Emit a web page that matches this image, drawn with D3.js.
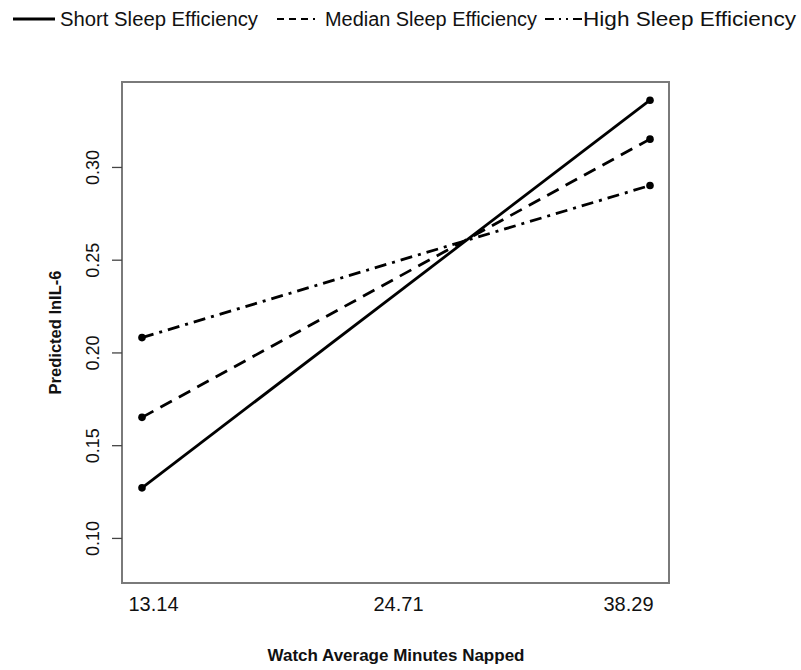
<!DOCTYPE html>
<html>
<head>
<meta charset="utf-8">
<script src="https://cdn.jsdelivr.net/npm/d3@7"></script>
<style>
  body { margin: 0; background: #fff; }
  text { font-family: "Liberation Sans", Arial, sans-serif; fill: #111; }
</style>
</head>
<body>
<div id="container"></div>
<script>
/* DATA */
const xLabels = ["13.14", "24.71", "38.29"];
const seriesNames = ["Short Sleep Efficiency", "Median Sleep Efficiency", "High Sleep Efficiency"];
const shortVals = [0.127, 0.336];
const medianVals = [0.165, 0.315];
const highVals = [0.208, 0.290];
const yTicks = [0.10, 0.15, 0.20, 0.25, 0.30];

const width = 801, height = 670;
const plot = {left: 122, right: 669, top: 82, bottom: 583};

const svg = d3.select("#container")
  .append("svg")
  .attr("width", width)
  .attr("height", height);

// x is categorical, lines only use first and last category
const xScale = d3.scalePoint()
  .domain(xLabels)
  .range([142, 650]);

const yScale = d3.scaleLinear()
  .domain([0.0757, 0.3458])
  .range([plot.bottom, plot.top]);

const dashes = ["none", "13,8", "12,6,3,6"];
const series = [shortVals, medianVals, highVals].map((vals, i) => ({
  name: seriesNames[i],
  dash: dashes[i],
  points: [
    {x: xLabels[0], y: vals[0]},
    {x: xLabels[xLabels.length - 1], y: vals[1]}
  ]
}));

// frame
svg.append("rect")
  .attr("x", plot.left)
  .attr("y", plot.top)
  .attr("width", plot.right - plot.left)
  .attr("height", plot.bottom - plot.top)
  .attr("fill", "none")
  .attr("stroke", "#7a7a7a")
  .attr("stroke-width", 2);

// y axis
const yAxis = svg.append("g")
  .attr("transform", `translate(${plot.left},0)`)
  .call(d3.axisLeft(yScale).tickValues(yTicks).tickFormat(d3.format(".2f")).tickSize(10));
yAxis.select(".domain").remove();
yAxis.selectAll(".tick line").attr("stroke", "#444").attr("stroke-width", 1.3);
yAxis.selectAll(".tick text")
  .attr("transform", "rotate(-90)")
  .attr("x", 0)
  .attr("y", -23)
  .attr("dy", "0")
  .style("text-anchor", "middle")
  .style("font-size", "18px")
  .style("font-family", "Liberation Sans, Arial, sans-serif");

// x labels (no tick marks in the original)
const xAxis = svg.append("g")
  .attr("transform", `translate(0,${plot.bottom})`)
  .call(d3.axisBottom(xScale).tickSize(0).tickPadding(14));
xAxis.select(".domain").remove();
xAxis.selectAll(".tick text")
  .style("font-size", "20px")
  .style("font-family", "Liberation Sans, Arial, sans-serif")
  .attr("dx", (d, i) => i === 0 ? 11 : (i === xLabels.length - 1 ? -22 : 2));

// axis titles
svg.append("text")
  .attr("x", 396)
  .attr("y", 661)
  .style("text-anchor", "middle")
  .style("font-weight", "bold")
  .style("font-size", "17px")
  .text("Watch Average Minutes Napped");

svg.append("text")
  .attr("transform", `translate(61,${(plot.top + plot.bottom) / 2}) rotate(-90)`)
  .style("text-anchor", "middle")
  .style("font-weight", "bold")
  .style("font-size", "16.5px")
  .text("Predicted lnIL-6");

// lines
const line = d3.line()
  .x(d => xScale(d.x))
  .y(d => yScale(d.y));

svg.selectAll(".series")
  .data(series)
  .join("path")
  .attr("class", "series")
  .attr("d", d => line(d.points))
  .attr("fill", "none")
  .attr("stroke", "#000")
  .attr("stroke-width", 2.8)
  .attr("stroke-dasharray", d => d.dash);

svg.selectAll(".pt")
  .data(series.flatMap(s => s.points))
  .join("circle")
  .attr("class", "pt")
  .attr("cx", d => xScale(d.x))
  .attr("cy", d => yScale(d.y))
  .attr("r", 3.8)
  .attr("fill", "#000");

// legend
const legendDash = ["none", "7,5", "9,5,2,5,2,5"];
const legendX = [13, 277, 545];
const legendTextW = [198, 212, 213];
const legend = svg.selectAll(".legend")
  .data(series)
  .join("g")
  .attr("class", "legend")
  .attr("transform", (d, i) => `translate(${legendX[i]},19)`);

legend.append("line")
  .attr("x1", 0)
  .attr("x2", (d, i) => i === 0 ? 42 : 38)
  .attr("stroke", "#000")
  .attr("stroke-width", (d, i) => i === 0 ? 2.8 : 2.2)
  .attr("stroke-dasharray", (d, i) => legendDash[i]);

legend.append("text")
  .attr("x", (d, i) => i === 0 ? 47 : (i === 1 ? 48 : 38))
  .attr("y", 7)
  .attr("textLength", (d, i) => legendTextW[i])
  .attr("lengthAdjust", "spacingAndGlyphs")
  .style("font-size", "20px")
  .text(d => d.name);
</script>
</body>
</html>
